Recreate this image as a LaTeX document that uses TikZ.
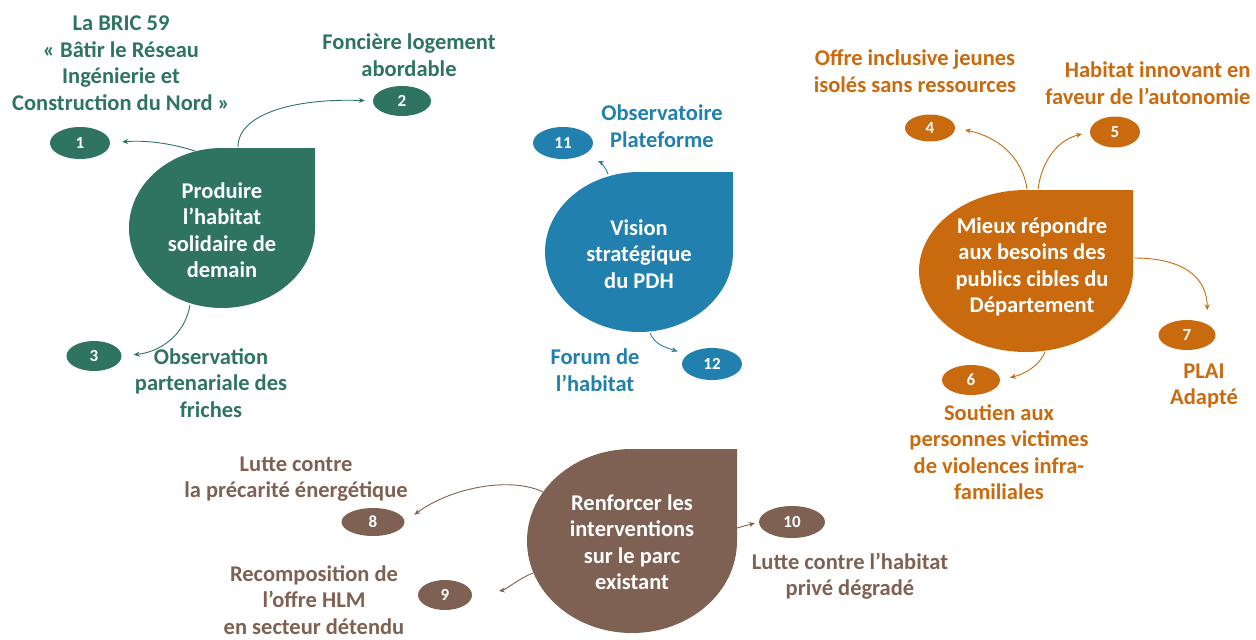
\documentclass[tikz,border=0pt]{standalone}
\usepackage{fontspec}
\setmainfont{Carlito}
\usetikzlibrary{arrows.meta,shapes.geometric}
\definecolor{cvert}{HTML}{2E7461}
\definecolor{cbleu}{HTML}{2280AE}
\definecolor{corange}{HTML}{C96A0E}
\definecolor{cbrun}{HTML}{7E6152}
\tikzset{
  num/.style={ellipse,minimum width=58pt,minimum height=30pt,inner sep=0pt,
    text=white,font=\fontsize{17}{19}\selectfont\bfseries},
  lbl/.style={align=center,font=\fontsize{22.5}{26.5}\selectfont\bfseries},
  coeur/.style={lbl,text=white},
  flow/.style={-{Stealth[length=6pt,width=5pt]},line width=0.9pt}
}
\begin{document}
\begin{tikzpicture}[x=1pt,y=-1pt]
  \useasboundingbox (0,0) rectangle (1256,640);
  % gouttes
  \fill[cvert] (315,228) arc[start angle=0,end angle=270,x radius=93,y radius=80] -- (315,148) -- cycle;
  \fill[cbleu] (733,252) arc[start angle=0,end angle=270,x radius=94,y radius=80] -- (733,172) -- cycle;
  \fill[corange] (1133,271) arc[start angle=0,end angle=270,x radius=107,y radius=81] -- (1133,190) -- cycle;
  \fill[cbrun] (737,541) arc[start angle=0,end angle=270,x radius=105,y radius=92] -- (737,449) -- cycle;
  \node[coeur] (prod) at (222,230) {Produire\\l'habitat\\solidaire de\\demain};
  \node[coeur] (vision) at (639,254) {Vision\\stratégique\\du PDH};
  \node[coeur] (mieux) at (1032,267) {Mieux répondre\\aux besoins des\\publics cibles du\\Département};
  \node[coeur] (renf) at (632,542) {Renforcer les\\interventions\\sur le parc\\existant};

  % vert
  \node[num,fill=cvert,minimum width=60pt,minimum height=32pt] (n1) at (80,143) {1};
  \node[num,fill=cvert] (n2) at (402,101) {2};
  \node[num,fill=cvert,minimum width=55pt] (n3) at (94,356) {3};
  \node[lbl,text=cvert] (l1) at (121,63) {La BRIC 59\\« Bâtir le Réseau\\Ingénierie et\\Construction du Nord »};
  \node[lbl,text=cvert] (l2) at (409,55) {Foncière logement\\abordable};
  \node[lbl,text=cvert] (l3) at (211,383) {Observation\\partenariale des\\friches};
  \coordinate (g1) at (195,151);
  \coordinate (g2) at (238,147);
  \coordinate (g3) at (190,305);
  \draw[flow,cvert,shorten >=12pt] (g1) .. controls (170,143) and (145,140) .. (n1.east);
  \draw[flow,cvert,shorten >=8pt] (g2) .. controls (238,112) and (300,98) .. (n2.west);
  \draw[flow,cvert,shorten >=12pt] (g3) .. controls (185,335) and (160,352) .. (n3.east);

  % bleu
  \node[num,fill=cbleu,minimum width=60pt,minimum height=32pt] (n11) at (563,143) {11};
  \node[num,fill=cbleu,minimum width=60pt,minimum height=32pt] (n12) at (712,364) {12};
  \node[lbl,text=cbleu] (l11) at (662,126) {Observatoire\\Plateforme};
  \node[lbl,text=cbleu] (l12) at (595,370) {Forum de\\l'habitat};
  \coordinate (b1) at (608,174);
  \coordinate (b2) at (650,333);
  \draw[flow,cbleu,shorten >=15pt] (b1) .. controls (605,166) and (600,162) .. (n11.south east);
  \draw[flow,cbleu,shorten >=10pt] (b2) .. controls (655,345) and (665,347) .. (n12.160);

  % orange
  \node[num,fill=corange,minimum width=50pt,minimum height=27pt] (n4) at (930,128) {4};
  \node[num,fill=corange,minimum width=50pt,minimum height=31pt] (n5) at (1115,132) {5};
  \node[num,fill=corange] (n6) at (971,380) {6};
  \node[num,fill=corange,minimum width=57pt] (n7) at (1187,335) {7};
  \node[lbl,text=corange] (l4) at (915,71) {Offre inclusive jeunes\\isolés sans ressources};
  \node[lbl,text=corange,align=right,anchor=east] (l5) at (1254,83) {Habitat innovant en\\faveur de l'autonomie};
  \node[lbl,text=corange] (l6) at (999,452) {Soutien aux\\personnes victimes\\de violences infra-\\familiales};
  \node[lbl,text=corange] (l7) at (1204,386) {PLAI\\Adapté};
  \coordinate (o1) at (1027,189);
  \coordinate (o2) at (1038,189);
  \coordinate (o3) at (1134,258);
  \coordinate (o4) at (1045,352);
  \draw[flow,corange,shorten >=10pt] (o1) .. controls (1022,155) and (995,136) .. (n4.east);
  \draw[flow,corange,shorten >=8pt] (o2) .. controls (1042,160) and (1058,140) .. (n5.west);
  \draw[flow,corange,shorten >=14pt] (o3) .. controls (1180,258) and (1207,275) .. (n7.north east);
  \draw[flow,corange,shorten >=10pt] (o4) .. controls (1040,365) and (1025,374) .. (n6.east);

  % brun
  \node[num,fill=cbrun,minimum width=63pt,minimum height=28pt] (n8) at (373,522) {8};
  \node[num,fill=cbrun,minimum width=54pt] (n9) at (445,595) {9};
  \node[num,fill=cbrun,minimum width=66pt,minimum height=32pt] (n10) at (792,522) {10};
  \node[lbl,text=cbrun] (l8) at (296,479) {Lutte contre\\la précarité énergétique};
  \node[lbl,text=cbrun] (l9) at (314,600) {Recomposition de\\l'offre HLM\\en secteur détendu};
  \node[lbl,text=cbrun] (l10) at (850,576) {Lutte contre l'habitat\\privé dégradé};
  \coordinate (r1) at (543,492);
  \coordinate (r2) at (533,573);
  \coordinate (r3) at (737,528);
  \draw[flow,cbrun,shorten >=12pt] (r1) .. controls (510,476) and (450,488) .. (n8.east);
  \draw[flow,cbrun,shorten >=27pt] (r2) .. controls (520,578) and (505,590) .. (n9.east);
  \draw[flow,cbrun,shorten >=4pt] (r3) -- (n10.west);
\end{tikzpicture}
\end{document}
